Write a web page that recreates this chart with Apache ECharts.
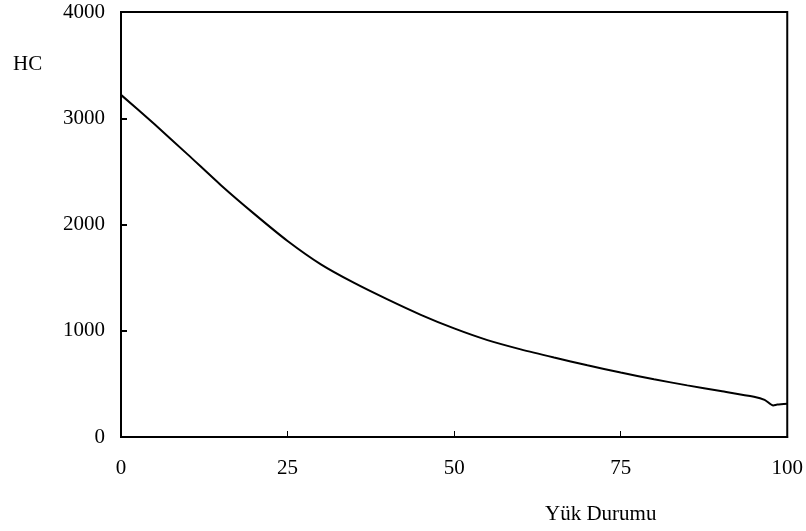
<!DOCTYPE html>
<html>
<head>
<meta charset="utf-8">
<script src="https://cdn.jsdelivr.net/npm/echarts@6/dist/echarts.min.js"></script>
<style>
  html, body { margin: 0; padding: 0; background: #fff; }
  #chart { width: 806px; height: 531px; }
</style>
</head>
<body>
<div id="chart"></div>
<script>
// Load state (%) and HC emission values
const loadState = [0, 5, 10, 15, 20, 25, 30, 35, 40, 45, 50, 55, 60, 65, 70, 75, 80, 85, 90, 95, 96.6, 97.9, 98.5, 100];
const hcValues  = [3220, 2945, 2660, 2370, 2100, 1845, 1625, 1450, 1295, 1150, 1022, 912, 825, 748, 675, 607, 543, 486, 433, 379, 350, 297, 305, 313];
const xTicks = [0, 25, 50, 75, 100];
const yTicks = [0, 1000, 2000, 3000, 4000];

const font = '"Liberation Serif", "DejaVu Serif", serif';
const chart = echarts.init(document.getElementById('chart'));

chart.setOption({
  animation: false,
  backgroundColor: '#ffffff',
  title: [
    { text: 'HC', left: 13, top: 54, padding: 0, textStyle: { fontFamily: font, fontSize: 21, fontWeight: 'normal', color: '#000' } },
    { text: 'Yük Durumu', left: 545, top: 504, padding: 0, textStyle: { fontFamily: font, fontSize: 21, fontWeight: 'normal', color: '#000' } }
  ],
  grid: {
    left: 121, right: 15, top: 12, bottom: 94,
    show: true, borderColor: '#000', borderWidth: 2
  },
  xAxis: {
    type: 'value', min: 0, max: 100, interval: 25,
    axisLine: { show: true, lineStyle: { color: '#000', width: 2 } },
    axisTick: { show: true, inside: true, length: 6, lineStyle: { color: '#000', width: 1 } },
    splitLine: { show: false },
    axisLabel: {
      margin: 21, color: '#000', fontFamily: font, fontSize: 21,
      formatter: v => xTicks.includes(v) ? String(v) : ''
    }
  },
  yAxis: {
    type: 'value', min: 0, max: 4000, interval: 1000,
    axisLine: { show: true, lineStyle: { color: '#000', width: 2 } },
    axisTick: { show: true, inside: true, length: 6, lineStyle: { color: '#000', width: 2 } },
    splitLine: { show: false },
    axisLabel: {
      margin: 16, color: '#000', fontFamily: font, fontSize: 21,
      formatter: v => yTicks.includes(v) ? String(v) : ''
    }
  },
  series: [{
    type: 'line',
    data: loadState.map((x, i) => [x, hcValues[i]]),
    showSymbol: false,
    smooth: 0.25,
    lineStyle: { color: '#000', width: 2 }
  }]
});
</script>
</body>
</html>
